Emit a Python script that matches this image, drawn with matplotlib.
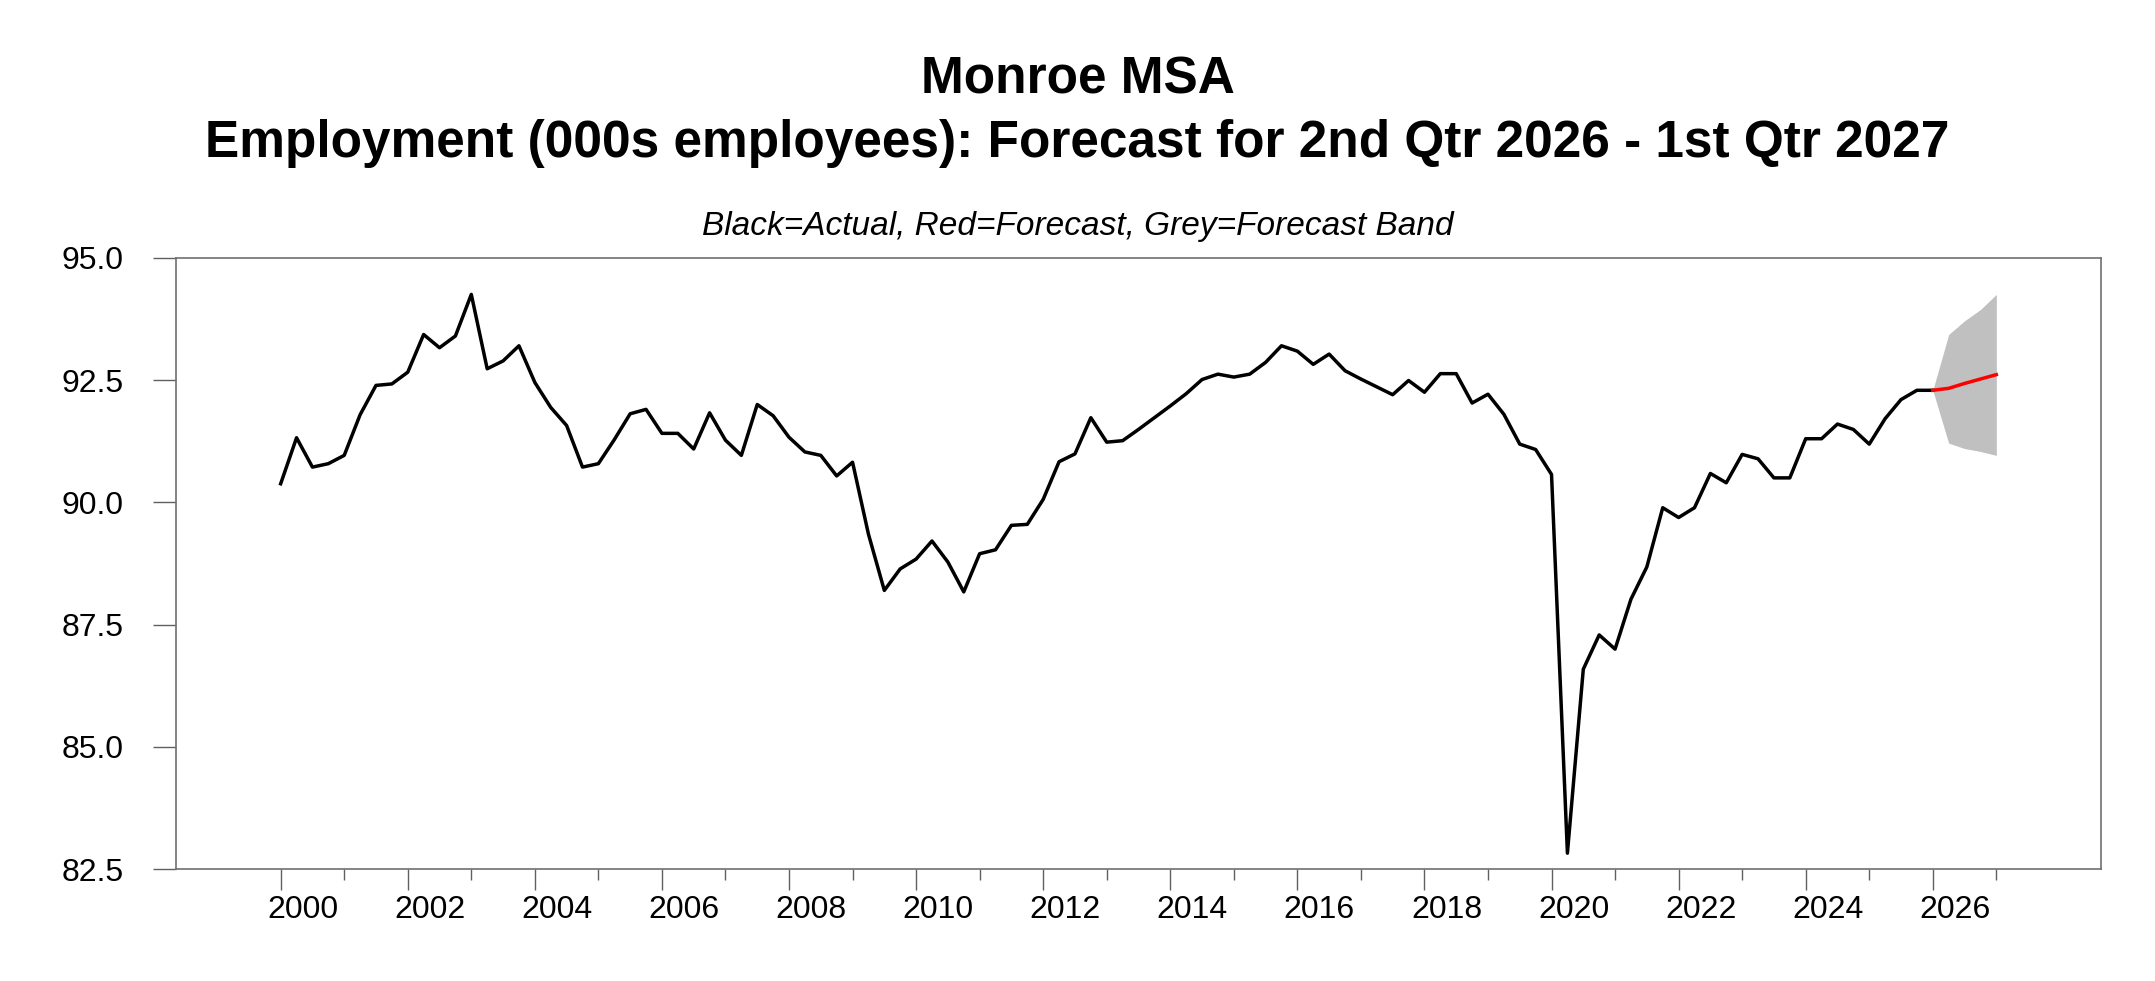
import numpy as np
import matplotlib.pyplot as plt
from matplotlib.transforms import ScaledTranslation

plt.rcParams['font.family'] = ['Liberation Sans', 'DejaVu Sans']

# quarterly employment, 2000Q1 .. 2026Q1 (000s)
actual = [
    90.38, 91.32, 90.72, 90.79,   # 2000
    90.96, 91.79, 92.39, 92.42,   # 2001
    92.66, 93.43, 93.16, 93.40,   # 2002
    94.25, 92.73, 92.89, 93.20,   # 2003
    92.45, 91.94, 91.57, 90.72,   # 2004
    90.79, 91.28, 91.81, 91.90,   # 2005
    91.41, 91.41, 91.09, 91.83,   # 2006
    91.27, 90.96, 92.00, 91.77,   # 2007
    91.33, 91.03, 90.96, 90.54,   # 2008
    90.82, 89.35, 88.20, 88.64,   # 2009
    88.84, 89.21, 88.78, 88.17,   # 2010
    88.95, 89.03, 89.53, 89.55,   # 2011
    90.06, 90.83, 90.99, 91.73,   # 2012
    91.23, 91.26, 91.49, 91.73,   # 2013
    91.97, 92.22, 92.51, 92.62,   # 2014
    92.56, 92.62, 92.86, 93.20,   # 2015
    93.09, 92.82, 93.03, 92.69,   # 2016
    92.52, 92.36, 92.20, 92.49,   # 2017
    92.25, 92.63, 92.63, 92.03,   # 2018
    92.21, 91.80, 91.19, 91.08,   # 2019
    90.57, 82.83, 86.59, 87.29,   # 2020
    87.00, 88.02, 88.68, 89.89,   # 2021
    89.69, 89.89, 90.59, 90.40,   # 2022
    90.98, 90.89, 90.50, 90.50,   # 2023
    91.30, 91.30, 91.60, 91.49,   # 2024
    91.19, 91.71, 92.10, 92.29,   # 2025
    92.29,                        # 2026Q1
]
# forecast 2026Q1 (anchor) .. 2027Q1
forecast = [92.29, 92.33, 92.43, 92.52, 92.61]
band_hi = [92.29, 93.43, 93.71, 93.94, 94.25]
band_lo = [92.29, 91.21, 91.10, 91.04, 90.96]

start_year = 2000
yticks = [82.5, 85.0, 87.5, 90.0, 92.5, 95.0]
major_years = list(range(2000, 2027, 2))
minor_years = list(range(2001, 2028, 2))

t_act = start_year + np.arange(len(actual)) / 4.0
t_fc = t_act[-1] + np.arange(len(forecast)) / 4.0

fig = plt.figure(figsize=(21.55, 9.81), dpi=100)
ax = fig.add_axes([0.08144, 0.11386, 0.89373, 0.62345])

ax.fill_between(t_fc, band_lo, band_hi, color='#c0c0c0', lw=0, zorder=1)
ax.plot(t_act, actual, color='black', lw=2.5, zorder=3)
ax.plot(t_fc, forecast, color='#ff0000', lw=2.5, zorder=4)

ax.set_xlim(1998.345, 2028.655)
ax.set_ylim(82.5, 95.0)

ax.set_yticks(yticks)
ax.set_yticklabels([f'{v:.1f}' for v in yticks])
ax.set_xticks(major_years)
ax.set_xticklabels([str(y) for y in major_years])
ax.set_xticks(minor_years, minor=True)

for s in ax.spines.values():
    s.set_color('#707070')
    s.set_linewidth(1.2)

ax.tick_params(axis='both', which='major', direction='out', color='#606060',
               width=1.0, labelsize=23, labelcolor='black')
ax.tick_params(axis='y', which='major', length=16.3, pad=21)
ax.tick_params(axis='x', which='major', length=15.3, pad=3)
ax.tick_params(axis='x', which='minor', length=8, width=1.0, color='#606060')

# year labels sit a little right of their tick
shift = ScaledTranslation(22 / 100, 0, fig.dpi_scale_trans)
for lab in ax.get_xticklabels():
    lab.set_transform(lab.get_transform() + shift)

fig.text(0.5, 1 - 94 / 981, 'Monroe MSA', ha='center', va='baseline',
         fontsize=37, fontweight='bold')
fig.text(0.5, 1 - 157 / 981,
         'Employment (000s employees): Forecast for 2nd Qtr 2026 - 1st Qtr 2027',
         ha='center', va='baseline', fontsize=37, fontweight='bold')
fig.text(0.5, 1 - 235 / 981, 'Black=Actual, Red=Forecast, Grey=Forecast Band',
         ha='center', va='baseline', fontsize=24, style='italic')

fig.savefig('out.png', dpi=100)
